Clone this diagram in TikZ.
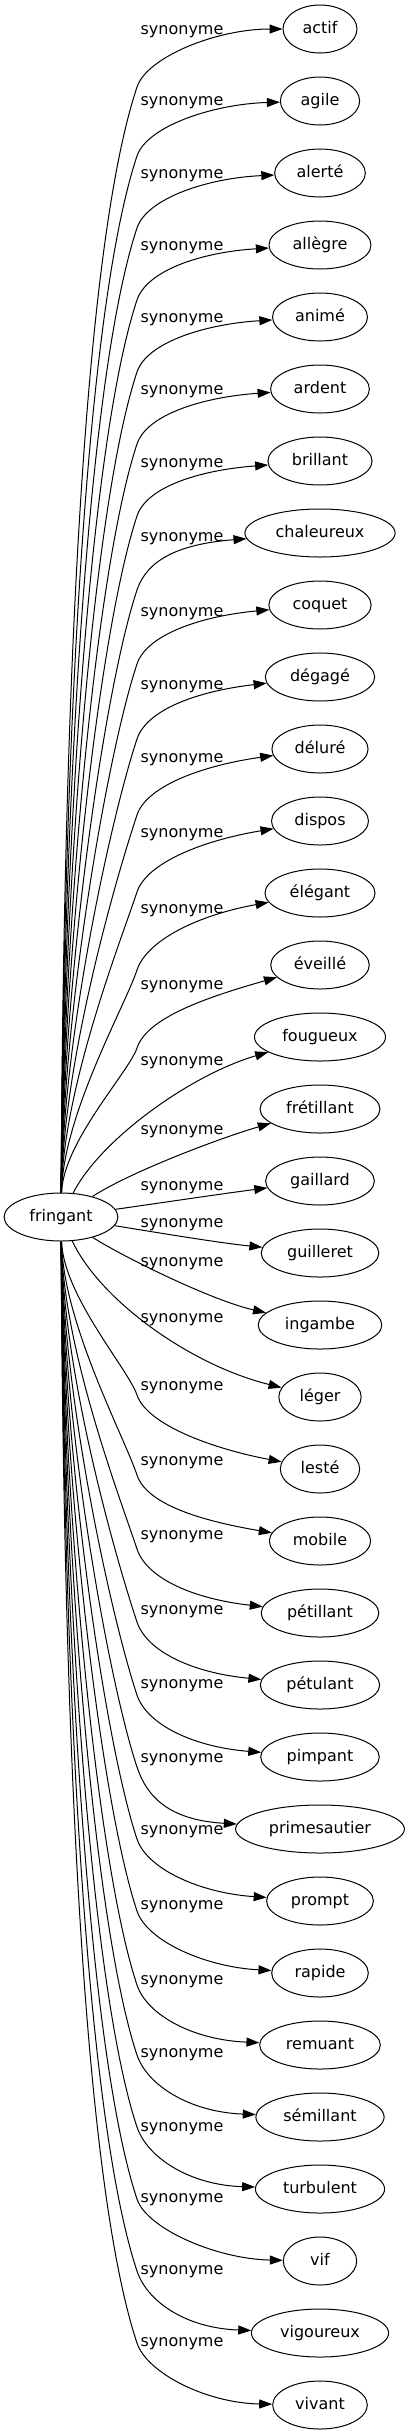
\documentclass[tikz,border=0pt]{standalone}
\usepackage{fontspec}
\setmainfont{DejaVu Sans}
\usetikzlibrary{arrows.meta, shapes.geometric, calc}

\begin{document}
\begin{tikzpicture}[x=0.75pt, y=-0.75pt, line width=0.75pt,
    word/.style={draw, ellipse, minimum height=36pt, minimum width=55pt, inner xsep=6.5pt, inner ysep=3pt,
        text height=9pt, text depth=3pt, font=\fontsize{12}{14}\selectfont},
    rel/.style={inner sep=0pt, text height=9pt, text depth=3pt, font=\fontsize{12}{14}\selectfont},
    edge/.style={-{Triangle[length=9.75pt, width=6.75pt]}}]
    \useasboundingbox (0,0) rectangle (404,2435);

    % Source
    \node[word] (fr) at (61,1217) {fringant};

    % Synonyms and their labels
    \foreach \i/\nm/\txt/\ly in {0/actif/actif/30, 1/agile/agile/101, 2/alerte/alerté/174,
        3/allegre/allègre/246, 4/anime/animé/318, 5/ardent/ardent/390, 6/brillant/brillant/463,
        7/chaleureux/chaleureux/537, 8/coquet/coquet/612, 9/degage/dégagé/685,
        10/delure/déluré/758, 11/dispos/dispos/833, 12/elegant/élégant/909,
        13/eveille/éveillé/985, 14/fougueux/fougueux/1061, 15/fretillant/frétillant/1130,
        16/gaillard/gaillard/1186, 17/guilleret/guilleret/1223, 18/ingambe/ingambe/1262,
        19/leger/léger/1318, 20/leste/lesté/1386, 21/mobile/mobile/1461,
        22/petillant/pétillant/1535, 23/petulant/pétulant/1610, 24/pimpant/pimpant/1684,
        25/primesautier/primesautier/1758, 26/prompt/prompt/1830, 27/rapide/rapide/1905,
        28/remuant/remuant/1980, 29/semillant/sémillant/2053, 30/turbulent/turbulent/2127,
        31/vif/vif/2198, 32/vigoureux/vigoureux/2270, 33/vivant/vivant/2342}
    {
        \node[word] (\nm) at (320,29+72*\i) {\txt};
        \node[rel] (l\nm) at (182,\ly) {synonyme};
    }

    % Edges going up
    \foreach \i/\nm/\k/\o in {0/actif/58/0, 1/agile/55/3, 2/alerte/55/5, 3/allegre/55/7,
        4/anime/55/7, 5/ardent/55/8, 6/brillant/55/9, 7/chaleureux/57/11, 8/coquet/59/11,
        9/degage/62/14, 10/delure/66/16, 11/dispos/71/19, 12/elegant/77/22, 13/eveille/83/33}
    {
        \pgfmathsetmacro\yk{29+72*\i+\k}
        \pgfmathsetmacro\dist{1193-\yk}
        \draw[edge] (fr) .. controls (63,1193-0.35*\dist) and (137-0.055*\dist,\yk+0.165*\dist) .. (137,\yk)
            .. controls (147,\yk-30) and ($(\nm.west)+(-66,\o)$) .. (\nm);
    }

    % Edges near the middle
    \draw[edge] (fr) .. controls (100,1140) and (190,1075) .. (fougueux);
    \draw[edge] (fr) .. controls (130,1172) and (220,1138) .. (fretillant);
    \draw[edge] (fr) .. controls (160,1203) and (220,1194) .. (gaillard);
    \draw[edge] (fr) .. controls (160,1233) and (220,1243) .. (guilleret);
    \draw[edge] (fr) .. controls (120,1255) and (210,1300) .. (ingambe);
    \draw[edge] (fr) .. controls (100,1300) and (190,1365) .. (leger);

    % Edges going down
    \foreach \i/\nm/\k/\o in {20/leste/74/20, 21/mobile/66/20, 22/petillant/64/14,
        23/petulant/63/12, 24/pimpant/62/10, 25/primesautier/62/9, 26/prompt/62/8,
        27/rapide/62/6, 28/remuant/60/5, 29/semillant/62/5, 30/turbulent/62/4,
        31/vif/62/2, 32/vigoureux/62/5, 33/vivant/62/2}
    {
        \pgfmathsetmacro\yk{29+72*\i-\k}
        \pgfmathsetmacro\dist{\yk-1241}
        \draw[edge] (fr) .. controls (63,1241+0.35*\dist) and (137-0.055*\dist,\yk-0.165*\dist) .. (137,\yk)
            .. controls (147,\yk+30) and ($(\nm.west)+(-66,-\o)$) .. (\nm);
    }
\end{tikzpicture}
\end{document}
